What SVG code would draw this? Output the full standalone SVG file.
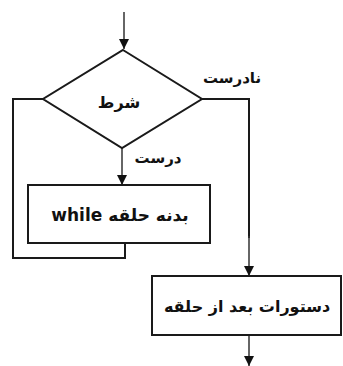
<svg xmlns="http://www.w3.org/2000/svg" width="343" height="366" viewBox="0 0 343 366">
  <style>
    .shape { fill: #fff; stroke: #1a1a1a; stroke-width: 2; }
    .wire { fill: none; stroke: #1a1a1a; stroke-width: 2; }
    .thin { fill: none; stroke: #333; stroke-width: 1.5; }
    .lbl { font-family: "DejaVu Sans", "Noto Sans", sans-serif; font-weight: bold; fill: #111; text-anchor: middle; }
  </style>
  <defs>
    <marker id="arrow" viewBox="0 0 10 10" refX="10" refY="5" markerWidth="10" markerHeight="10" markerUnits="userSpaceOnUse" orient="auto">
      <path d="M0,0 L10,5 L0,10 z" fill="#111"/>
    </marker>
  </defs>
  <rect width="343" height="366" fill="#fff"/>

  <g id="connectors">
    <!-- entry -->
    <line class="thin" x1="124" y1="12" x2="124" y2="49" marker-end="url(#arrow)"/>
    <!-- true branch into the loop body -->
    <line class="thin" x1="122" y1="148" x2="122" y2="185" marker-end="url(#arrow)"/>
    <!-- loop back from body to condition -->
    <polyline class="wire" points="125,243 125,258 13,258 13,99 43,99"/>
    <!-- false branch exits the loop -->
    <polyline class="wire" points="202,99 249,99 249,238"/>
    <line class="thin" x1="249" y1="236" x2="249" y2="276" marker-end="url(#arrow)"/>
    <!-- exit -->
    <line class="thin" x1="249" y1="335" x2="249" y2="366" marker-end="url(#arrow)"/>
  </g>

  <g id="condition">
    <polygon class="shape" points="123,50 202,99 122,148 43,99"/>
    <text class="lbl" x="119" y="108" font-size="16">شرط</text>
  </g>

  <g id="label-false">
    <text class="lbl" x="232" y="83" font-size="15">نادرست</text>
  </g>

  <g id="label-true">
    <text class="lbl" x="158" y="163" font-size="15">درست</text>
  </g>

  <g id="body">
    <rect class="shape" x="28" y="185" width="182" height="58"/>
    <text class="lbl" x="120" y="221" font-size="17" direction="rtl">بدنه حلقه while</text>
  </g>

  <g id="after">
    <rect class="shape" x="152" y="276" width="189" height="59"/>
    <text class="lbl" x="247" y="312" font-size="16">دستورات بعد از حلقه</text>
  </g>
</svg>
